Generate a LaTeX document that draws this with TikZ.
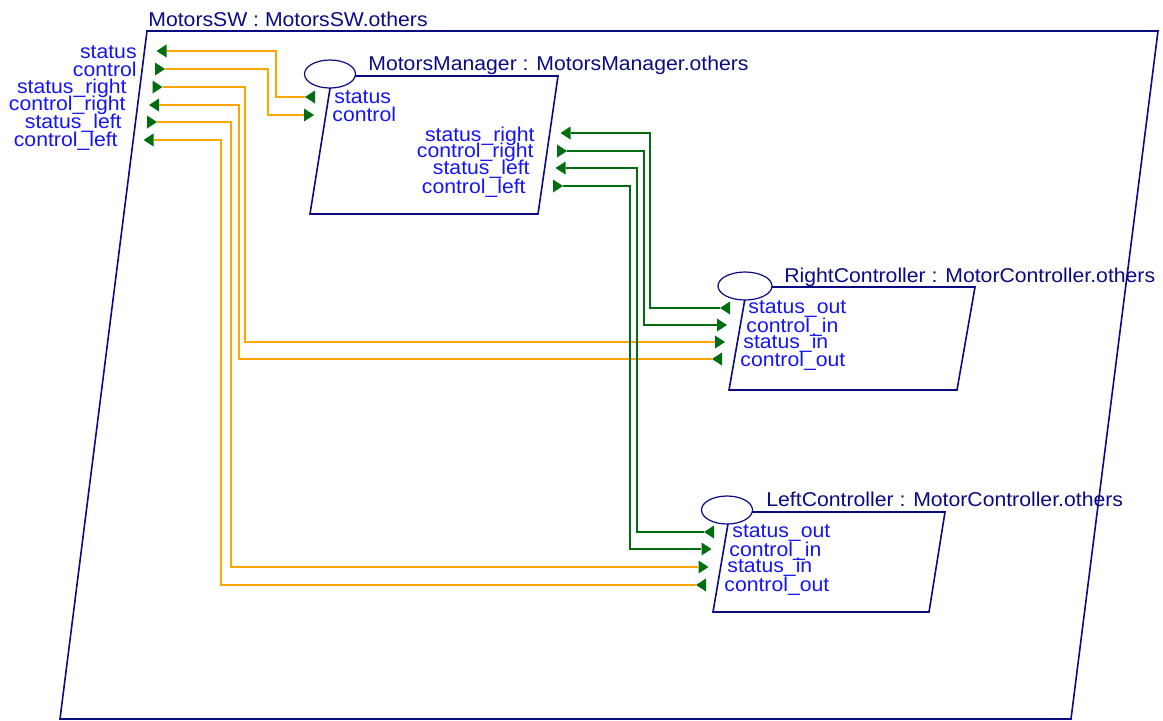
\documentclass[tikz,border=0pt]{standalone}
\usepackage{fontspec}
\setmainfont{Liberation Sans}[FakeStretch=1.06]
\usetikzlibrary{shapes.geometric}
\definecolor{navyline}{RGB}{10,10,130}
\definecolor{labelblue}{RGB}{20,20,245}
\definecolor{pingreen}{RGB}{0,110,15}
\definecolor{wireorange}{RGB}{255,165,0}

\begin{document}
\begin{tikzpicture}[x=0.5pt,y=-0.5pt,
  frame/.style={draw=navyline,line width=0.8pt},
  title/.style={text=navyline,inner sep=0pt,font=\fontsize{10}{12}\selectfont},
  lbl/.style={text=labelblue,inner sep=0pt,font=\fontsize{10}{12}\selectfont},
  head/.style={ellipse,draw=navyline,fill=white,line width=0.6pt,inner sep=0pt,minimum height=14pt},
  pin/.style={rectangle,inner sep=0pt,minimum width=5pt,minimum height=6.5pt},
  pinL/.style={pin,path picture={\fill[pingreen] (path picture bounding box.east |- path picture bounding box.north)
      -- (path picture bounding box.west) -- (path picture bounding box.south east) -- cycle;}},
  pinR/.style={pin,path picture={\fill[pingreen] (path picture bounding box.north west)
      -- (path picture bounding box.east) -- (path picture bounding box.south west) -- cycle;}},
  wireO/.style={draw=wireorange,line width=1pt},
  wireG/.style={draw=pingreen,line width=1pt}]
\useasboundingbox (0,0) rectangle (1163,720);

% MotorsSW
\draw[frame] (147,31) -- (1158,31) -- (1071,719) -- (60,719) -- cycle;
\node[title,anchor=base west] (swTitle) at (148,26) {MotorsSW : MotorsSW.others};
\node[pinL] (swStatus) at (161.5,51) {};
\node[pinR] (swControl) at (160,69) {};
\node[pinR] (swStatusR) at (157.5,87) {};
\node[pinL] (swControlR) at (154,105) {};
\node[pinR] (swStatusL) at (152,122) {};
\node[pinL] (swControlL) at (148.5,140) {};
\node[lbl,anchor=base east] (swStatusLbl) at (137,58) {status};
\node[lbl,anchor=base east] (swControlLbl) at (137,76) {control};
\node[lbl,anchor=base east] (swStatusRLbl) at (127,93) {status\_right};
\node[lbl,anchor=base east] (swControlRLbl) at (126,110) {control\_right};
\node[lbl,anchor=base east] (swStatusLLbl) at (122,128) {status\_left};
\node[lbl,anchor=base east] (swControlLLbl) at (118,146) {control\_left};

% MotorsManager
\draw[frame] (332,76) -- (558,76) -- (538,214) -- (310,214) -- cycle;
\node[head,minimum width=25.5pt] (mmHead) at (330,74) {};
\node[title,anchor=base west] (mmTitle) at (368,70) {MotorsManager : MotorsManager.others};
\node[pinL] (mmStatus) at (310,97) {};
\node[pinR] (mmControl) at (309,115) {};
\node[pinL] (mmStatusR) at (565.5,133) {};
\node[pinR] (mmControlR) at (562,151) {};
\node[pinL] (mmStatusL) at (560.5,168) {};
\node[pinR] (mmControlL) at (558,186) {};
\node[lbl,anchor=base west] (mmStatusLbl) at (334,103) {status};
\node[lbl,anchor=base west] (mmControlLbl) at (332,121) {control};
\node[lbl,anchor=base east] (mmStatusRLbl) at (535,141) {status\_right};
\node[lbl,anchor=base east] (mmControlRLbl) at (534,157) {control\_right};
\node[lbl,anchor=base east] (mmStatusLLbl) at (530,174) {status\_left};
\node[lbl,anchor=base east] (mmControlLLbl) at (526,193) {control\_left};

% RightController
\draw[frame] (747,287) -- (975,287) -- (957,390) -- (729,390) -- cycle;
\node[head,minimum width=27pt] (rcHead) at (745,286) {};
\node[title,anchor=base west] (rcTitle) at (784,282) {RightController : MotorController.others};
\node[pinL] (rcStatusOut) at (725,308) {};
\node[pinR] (rcControlIn) at (722,325) {};
\node[pinR] (rcStatusIn) at (720,342) {};
\node[pinL] (rcControlOut) at (717,359) {};
\node[lbl,anchor=base west] (rcStatusOutLbl) at (748,313) {status\_out};
\node[lbl,anchor=base west] (rcControlInLbl) at (746,332) {control\_in};
\node[lbl,anchor=base west] (rcStatusInLbl) at (743,348) {status\_in};
\node[lbl,anchor=base west] (rcControlOutLbl) at (740,366) {control\_out};

% LeftController
\draw[frame] (730,512) -- (945,512) -- (929,612) -- (713,612) -- cycle;
\node[head,minimum width=25.5pt] (lcHead) at (727,510) {};
\node[title,anchor=base west] (lcTitle) at (766,506) {LeftController : MotorController.others};
\node[pinL] (lcStatusOut) at (709,532) {};
\node[pinR] (lcControlIn) at (706.5,549) {};
\node[pinR] (lcStatusIn) at (703.5,567) {};
\node[pinL] (lcControlOut) at (701,585) {};
\node[lbl,anchor=base west] (lcStatusOutLbl) at (732,537) {status\_out};
\node[lbl,anchor=base west] (lcControlInLbl) at (729,556) {control\_in};
\node[lbl,anchor=base west] (lcStatusInLbl) at (727,572) {status\_in};
\node[lbl,anchor=base west] (lcControlOutLbl) at (724,591) {control\_out};

% outer ports to components
\draw[wireO] (swStatus.east) -- ++(109,0) |- (mmStatus.west);
\draw[wireO] (swControl.east) -- ++(103,0) |- (mmControl.west);
\draw[wireO] (swStatusR.east) -- ++(82,0) |- (rcStatusIn.west);
\draw[wireO] (swControlR.east) -- ++(80,0) |- (rcControlOut.west);
\draw[wireO] (swStatusL.east) -- ++(74,0) |- (lcStatusIn.west);
\draw[wireO] (swControlL.east) -- ++(67,0) |- (lcControlOut.west);

% manager to controllers
\draw[wireG] (mmStatusR.east) -- ++(79,0) |- (rcStatusOut.west);
\draw[wireG] (mmControlR.east) -- ++(77,0) |- (rcControlIn.west);
\draw[wireG] (mmStatusL.east) -- ++(71,0) |- (lcStatusOut.west);
\draw[wireG] (mmControlL.east) -- ++(67,0) |- (lcControlIn.west);
\end{tikzpicture}
\end{document}
